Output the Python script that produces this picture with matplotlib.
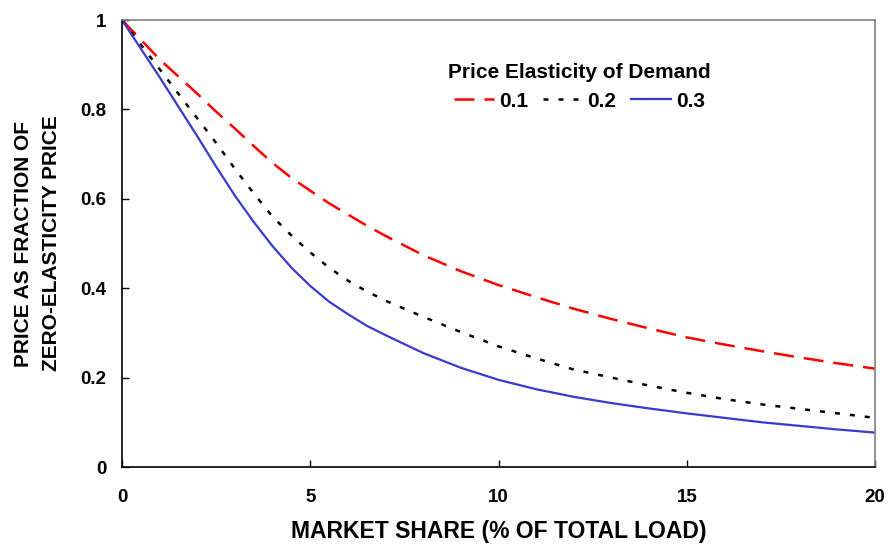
import matplotlib
matplotlib.use("Agg")
import matplotlib.pyplot as plt

plt.rcParams['font.family'] = ['Liberation Sans', 'DejaVu Sans']
plt.rcParams['font.weight'] = 'bold'

market_share = [0, 1, 2, 2.5, 3, 3.5, 4, 4.5, 5, 5.5, 6, 6.5, 7, 8, 9, 10,
                11, 12, 13, 14, 15, 16, 17, 18, 19, 20]
e01 = [1.0, 0.912, 0.835, 0.795, 0.757, 0.718, 0.68, 0.647, 0.618, 0.59, 0.565,
       0.54, 0.517, 0.474, 0.438, 0.407, 0.38, 0.354, 0.331, 0.31, 0.29, 0.274,
       0.259, 0.245, 0.232, 0.22]
e02 = [1.0, 0.89, 0.78, 0.725, 0.667, 0.612, 0.56, 0.518, 0.48, 0.446, 0.417,
       0.393, 0.372, 0.336, 0.302, 0.27, 0.243, 0.218, 0.2, 0.182, 0.166, 0.152,
       0.14, 0.13, 0.12, 0.11]
e03 = [1.0, 0.872, 0.74, 0.672, 0.607, 0.548, 0.494, 0.446, 0.405, 0.37, 0.342,
       0.316, 0.295, 0.255, 0.222, 0.195, 0.174, 0.157, 0.143, 0.131, 0.12, 0.11,
       0.1, 0.092, 0.084, 0.077]
series_labels = ['0.1', '0.2', '0.3']
x_ticks = [0, 5, 10, 15, 20]
y_ticks = [0, 0.2, 0.4, 0.6, 0.8, 1]
y_tick_labels = ['0', '0.2', '0.4', '0.6', '0.8', '1']

fig = plt.figure(figsize=(8.89, 5.45), dpi=100)
ax = fig.add_axes([0.1372, 0.1431, 0.8471, 0.8202])

ax.plot(market_share, e01, color='#ff0000', lw=1.8, dashes=(8, 4), label=series_labels[0])
ax.plot(market_share, e02, color='black', lw=1.8, dashes=(2, 4), label=series_labels[1])
ax.plot(market_share, e03, color='#3a3acc', lw=1.6, label=series_labels[2])

ax.set_xlim(0, 20)
ax.set_ylim(0, 1)
ax.set_xticks(x_ticks)
ax.set_xticklabels([str(v) for v in x_ticks])
ax.set_yticks(y_ticks)
ax.set_yticklabels(y_tick_labels)
ax.tick_params(direction='in', length=5, width=1, labelsize=13.5)
ax.tick_params(axis='x', pad=16)
ax.tick_params(axis='y', pad=11)

for s in ['top', 'right']:
    ax.spines[s].set_color('#808080')
for s in ['left', 'bottom']:
    ax.spines[s].set_color('black')
for s in ax.spines.values():
    s.set_linewidth(1.2)

ax.set_xlabel('MARKET SHARE (% OF TOTAL LOAD)', fontsize=16.5, fontweight='bold', labelpad=10)
ax.set_ylabel('PRICE AS FRACTION OF\nZERO-ELASTICITY PRICE', fontsize=15, fontweight='bold',
              labelpad=14, linespacing=1.6)

leg = ax.legend(title='Price Elasticity of Demand', ncol=3, frameon=False,
                loc='center', bbox_to_anchor=(0.6075, 0.85),
                fontsize=15, title_fontsize=15, handlelength=1.9,
                columnspacing=0.7, handletextpad=0.25, borderaxespad=0,
                borderpad=0, labelspacing=0.45)
leg.get_title().set_fontweight('bold')

fig.savefig('out.png', dpi=100)
